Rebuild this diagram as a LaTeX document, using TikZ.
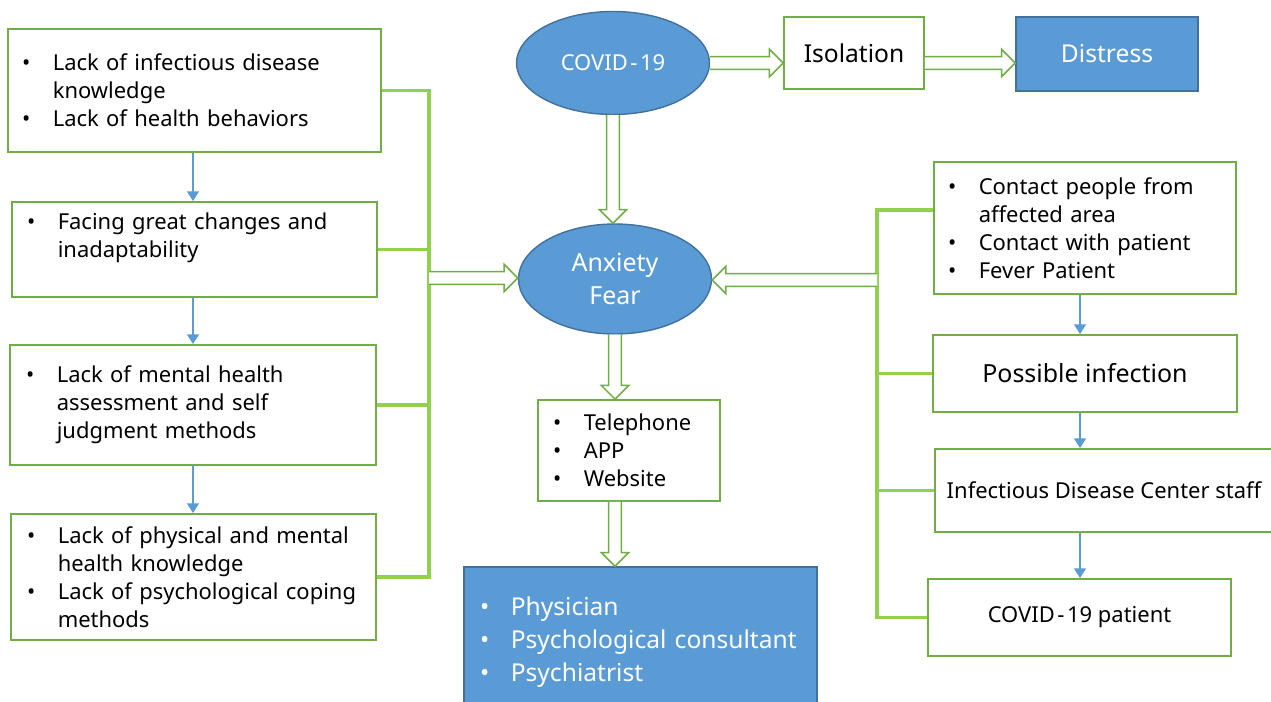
\documentclass[tikz,border=0pt]{standalone}
\usepackage{fontspec}
\setmainfont{Noto Sans}
\usetikzlibrary{calc,arrows.meta,shapes.geometric}
\definecolor{gbox}{HTML}{70AD47}
\definecolor{gline}{HTML}{92D050}
\definecolor{bfill}{HTML}{5B9BD5}
\definecolor{bdark}{HTML}{41719C}
\newcommand\bitem[1]{\mbox{\makebox[17.5pt][l]{\textbullet}#1}}
\newcommand\bcont[1]{\mbox{\hspace*{17.5pt}#1}}
\newcommand\cvd{COVID\kern1.5pt-\kern1.5pt19}
\newcommand\hollowarrow[2]{%
  \draw[hollow] let \p1=(#1), \p2=(#2), \p3=($(#2)!7.8pt!(#1)$) in
    ($(\p1)!3.6pt!90:(\p2)$) -- ($(\p3)!3.6pt!-90:(\p1)$) -- ($(\p3)!7.8pt!-90:(\p1)$)
    -- (\p2) -- ($(\p3)!7.8pt!90:(\p1)$) -- ($(\p3)!3.6pt!90:(\p1)$) -- ($(\p1)!3.6pt!-90:(\p2)$);}
\tikzset{
  box/.style={draw=gbox, line width=1pt, fill=white, inner ysep=0pt, align=left,
    font=\fontsize{12.5pt}{15.9pt}\selectfont},
  cbox/.style={draw=gbox, line width=1pt, fill=white, inner sep=0pt, align=center},
  bluebox/.style={draw=bdark, line width=0.8pt, fill=bfill, text=white},
  oval/.style={ellipse, draw=bdark, line width=0.8pt, fill=bfill, text=white, inner sep=0pt, align=center},
  bracket/.style={draw=gline, line width=1.8pt},
  flow/.style={draw=bfill, line width=1.4pt, -{Triangle[width=6.5pt,length=5.5pt]}},
  hollow/.style={draw=gbox, line width=0.9pt, fill=white, line join=miter},
  big/.style={font=\fontsize{14.2pt}{18.7pt}\selectfont},
  mid/.style={font=\fontsize{12.5pt}{15.9pt}\selectfont}
}
\begin{document}
\begin{tikzpicture}[x=0.02cm,y=-0.02cm]
\useasboundingbox (0,0) rectangle (1271,702);
\clip (0,0) rectangle (1271,702);
\fill[white] (0,0) rectangle (1271,702);

% left column
\node[box, text width=6.90cm, inner xsep=0.28cm, minimum height=2.46cm] (b1) at (194.5,90.5)
  {\bitem{Lack of infectious disease}\\ \bcont{knowledge}\\ \bitem{Lack of health behaviors}};
\node[box, text width=6.70cm, inner xsep=0.30cm, minimum height=1.90cm] (b2) at (194.5,249.5)
  {\bitem{Facing great changes and}\\ \bcont{inadaptability}\\ \mbox{}};
\node[box, text width=6.68cm, inner xsep=0.32cm, minimum height=2.40cm] (b3) at (193,405)
  {\bitem{Lack of mental health}\\ \bcont{assessment and self}\\ \bcont{judgment methods}};
\node[box, text width=6.66cm, inner xsep=0.32cm, minimum height=2.52cm] (b4) at (193.5,577)
  {\bitem{Lack of physical and mental}\\ \bcont{health knowledge}\\ \bitem{Lack of psychological coping}\\ \bcont{methods}};

\coordinate (LX) at (193,0);
\draw[flow] (b1.south -| LX) -- (b2.north -| LX);
\draw[flow] (b2.south -| LX) -- (b3.north -| LX);
\draw[flow] (b3.south -| LX) -- (b4.north -| LX);

\coordinate (LB) at (429,278);
\draw[bracket] (b1.east) -- (b1.east -| LB) -- (b4.east -| LB) -- (b4.east);
\draw[bracket] (b2.east) -- (b2.east -| LB);
\draw[bracket] (b3.east) -- (b3.east -| LB);

% centre
\node[oval, minimum width=3.86cm, minimum height=2.06cm, mid] (covid) at (613,63) {\cvd};
\node[oval, minimum width=3.86cm, minimum height=2.20cm, big] (anx) at (615,279) {Anxiety\\Fear};
\node[cbox, minimum width=2.80cm, minimum height=1.44cm, font=\fontsize{14pt}{18pt}\selectfont] (iso) at (854,53) {Isolation};
\node[bluebox, inner sep=0pt, minimum width=3.64cm, minimum height=1.48cm, font=\fontsize{14pt}{18pt}\selectfont] (dis) at (1107,54) {Distress};
\node[box, text width=3.04cm, inner xsep=0.30cm, minimum height=2.02cm] (tel) at (629,450.5)
  {\bitem{Telephone}\\ \bitem{APP}\\ \bitem{Website}};
\node[bluebox, font=\fontsize{14pt}{18.7pt}\selectfont, align=left, inner ysep=0pt, text width=6.42cm, inner xsep=0.32cm, minimum height=3.0cm] (doc) at (640.5,642)
  {\bitem{Physician}\\ \bitem{Psychological consultant}\\ \bitem{Psychiatrist}};

\hollowarrow{covid.east}{iso.west |- covid.east}
\hollowarrow{iso.east |- covid.east}{dis.west |- covid.east}
\hollowarrow{covid.south}{covid.south |- anx.north}
\hollowarrow{LB}{anx.west |- LB}
\hollowarrow{anx.south}{anx.south |- tel.north}
\hollowarrow{anx.south |- tel.south}{anx.south |- doc.north}

% right column
\node[box, text width=5.48cm, inner xsep=0.28cm, minimum height=2.64cm] (r1) at (1085,228)
  {\bitem{Contact people from}\\ \bcont{affected area}\\ \bitem{Contact with patient}\\ \bitem{Fever Patient}};
\node[cbox, big, minimum width=6.08cm, minimum height=1.54cm] (r2) at (1085,373.5) {Possible infection};
\node[cbox, mid, minimum width=6.76cm, minimum height=1.66cm] (r3) at (1104,490.5) {Infectious Disease Center staff};
\node[cbox, mid, minimum width=6.06cm, minimum height=1.54cm] (r4) at (1079.5,617.5) {\cvd{} patient};

\coordinate (RX) at (1080,0);
\draw[flow] (r1.south -| RX) -- (r2.north -| RX);
\draw[flow] (r2.south -| RX) -- (r3.north -| RX);
\draw[flow] (r3.south -| RX) -- (r4.north -| RX);

\coordinate (RT) at (877,210);
\coordinate (RB) at (877,280);
\draw[bracket] (RT -| r1.west) -- (RT) -- (r4.west -| RT) -- (r4.west);
\draw[bracket] (r2.west) -- (r2.west -| RT);
\draw[bracket] (r3.west) -- (r3.west -| RT);
\hollowarrow{RB}{anx.east |- RB}
\end{tikzpicture}
\end{document}
